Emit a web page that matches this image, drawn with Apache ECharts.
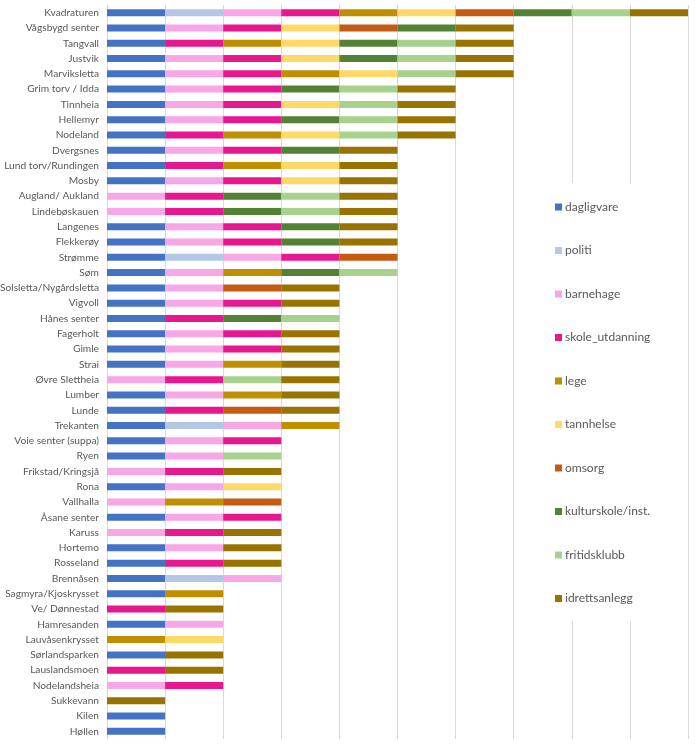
<!DOCTYPE html>
<html>
<head>
<meta charset="utf-8">
<script src="https://cdn.jsdelivr.net/npm/echarts@6/dist/echarts.min.js"></script>
<style>html,body{margin:0;padding:0;background:#fff}#c{width:696px;height:745px}</style>
</head>
<body>
<div id="c"></div>
<script>
const categories = ["Kvadraturen","Vågsbygd senter","Tangvall","Justvik","Marviksletta","Grim torv / Idda","Tinnheia","Hellemyr",
"Nodeland","Dvergsnes","Lund torv/Rundingen","Mosby","Augland/ Aukland","Lindebøskauen","Langenes","Flekkerøy",
"Strømme","Søm","Solsletta/Nygårdsletta","Vigvoll","Hånes senter","Fagerholt","Gimle","Strai",
"Øvre Slettheia","Lumber","Lunde","Trekanten","Voie senter (suppa)","Ryen","Frikstad/Kringsjå","Rona",
"Vallhalla","Åsane senter","Karuss","Hortemo","Rosseland","Brennåsen","Sagmyra/Kjoskrysset","Ve/ Dønnestad",
"Hamresanden","Lauvåsenkrysset","Sørlandsparken","Lauslandsmoen","Nodelandsheia","Sukkevann","Kilen","Høllen"];

const dagligvare    = [1,1,1,1,1,1,1,1, 1,1,1,1,0,0,1,1, 1,1,1,1,1,1,1,1, 0,1,1,1,1,1,0,1, 0,1,0,1,1,1,1,0, 1,0,1,0,0,0,1,1];
const politi        = [1,0,0,0,0,0,0,0, 0,0,0,0,0,0,0,0, 1,0,0,0,0,0,0,0, 0,0,0,1,0,0,0,0, 0,0,0,0,0,1,0,0, 0,0,0,0,0,0,0,0];
const barnehage     = [1,1,0,1,1,1,1,1, 0,1,0,1,1,1,1,1, 1,1,1,1,0,1,1,1, 1,1,0,1,1,1,1,1, 1,1,1,1,0,1,0,0, 1,0,0,0,1,0,0,0];
const skole         = [1,1,1,1,1,1,1,1, 1,1,1,1,1,1,1,1, 1,0,0,1,1,1,1,0, 1,0,1,0,1,0,1,0, 0,1,1,0,1,0,0,1, 0,0,0,1,1,0,0,0];
const lege          = [1,0,1,0,1,0,0,0, 1,0,1,0,0,0,0,0, 0,1,0,0,0,0,0,1, 0,1,0,1,0,0,0,0, 1,0,0,0,0,0,1,0, 0,1,0,0,0,0,0,0];
const tannhelse     = [1,1,1,1,1,0,1,0, 1,0,1,1,0,0,0,0, 0,0,0,0,0,0,0,0, 0,0,0,0,0,0,0,1, 0,0,0,0,0,0,0,0, 0,1,0,0,0,0,0,0];
const omsorg        = [1,1,0,0,0,0,0,0, 0,0,0,0,0,0,0,0, 1,0,1,0,0,0,0,0, 0,0,1,0,0,0,0,0, 1,0,0,0,0,0,0,0, 0,0,0,0,0,0,0,0];
const kulturskole   = [1,1,1,1,0,1,0,1, 0,1,0,0,1,1,1,1, 0,1,0,0,1,0,0,0, 0,0,0,0,0,0,0,0, 0,0,0,0,0,0,0,0, 0,0,0,0,0,0,0,0];
const fritidsklubb  = [1,0,1,1,1,1,1,1, 1,0,0,0,1,1,0,0, 0,1,0,0,1,0,0,0, 1,0,0,0,0,1,0,0, 0,0,0,0,0,0,0,0, 0,0,0,0,0,0,0,0];
const idrettsanlegg = [1,1,1,1,1,1,1,1, 1,1,1,1,1,1,1,1, 0,0,1,1,0,1,1,1, 1,1,1,0,0,0,1,0, 0,0,1,1,1,0,0,1, 0,0,1,1,0,1,0,0];

const seriesNames = ["dagligvare","politi","barnehage","skole_utdanning","lege","tannhelse","omsorg","kulturskole/inst.","fritidsklubb","idrettsanlegg"];
const seriesData = [dagligvare,politi,barnehage,skole,lege,tannhelse,omsorg,kulturskole,fritidsklubb,idrettsanlegg];
const colors = ["#4472C4","#B4C7E7","#F7A6E6","#E8168F","#BF8F00","#FFD966","#C55A11","#548235","#A9D18E","#997300"];

const chart = echarts.init(document.getElementById('c'), null, {renderer:'canvas'});
chart.setOption({
  animation:false,
  backgroundColor:'#fff',
  color: colors,
  grid:{left:107, right:8, top:5, bottom:6, containLabel:false, outerBoundsMode:'none'},
  xAxis:{type:'value', min:0, max:10, interval:1,
    axisLabel:{show:false}, axisLine:{show:false}, axisTick:{show:false},
    splitLine:{show:true, lineStyle:{color:'#d9d9d9', width:1}}},
  yAxis:{type:'category', data:categories, inverse:true,
    axisLine:{show:false}, axisTick:{show:false},
    axisLabel:{interval:0, color:'#595959', fontSize:10.2, fontFamily:'Lato, sans-serif', margin:8}},
  legend:{orient:'vertical', left:518, top:183, padding:[17,36,16,37],
    backgroundColor:'#fff', itemWidth:7, itemHeight:7, itemGap:29.5,
    icon:'rect', data:seriesNames,
    textStyle:{color:'#595959', fontSize:12, lineHeight:14, fontFamily:'Lato, sans-serif', padding:[0,0,0,-2]}},
  series: seriesNames.map((n,i)=>({
    name:n, type:'bar', stack:'total', barWidth:7,
    data: seriesData[i],
    itemStyle:{color:colors[i]}
  }))
});
</script>
</body>
</html>
